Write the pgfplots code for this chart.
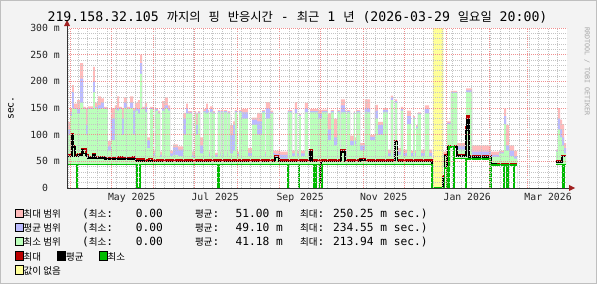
\documentclass[border=0pt]{standalone}
\usepackage{fontspec}
\setmainfont{DejaVu Sans Mono}
\newfontfamily\kr{Noto Sans CJK KR}[Scale=0.85]
\newfontfamily\krt{Noto Sans CJK KR}[Scale=0.93]
\usepackage{pgfplots}
\usepackage{pgfplotstable}
\pgfplotsset{compat=1.18}
\usetikzlibrary{arrows.meta}

\definecolor{bg}{HTML}{F3F3F3}
\definecolor{pinkA}{HTML}{FFBBBB}
\definecolor{blueA}{HTML}{BBBBFF}
\definecolor{greenA}{HTML}{BBFFBB}
\definecolor{redL}{HTML}{BB0000}
\definecolor{greenL}{HTML}{00BB00}
\definecolor{yel}{HTML}{FFFF99}
\definecolor{gridc}{HTML}{C4C4C4}
\definecolor{mgridc}{HTML}{F09090}
\definecolor{arrowc}{HTML}{A02020}

\newcommand\tf{\fontsize{13.2bp}{15bp}\selectfont}
\newcommand\lf{\fontsize{11.2bp}{13bp}\selectfont}
\newcommand\af{\fontsize{9.8bp}{11bp}\selectfont}

% area bands: day, base, green top, blue top, pink top
\pgfplotstableread{
d lo g b p
0 43 100 110 124
2.2 43 135 142 150
3.65 43 150 180 193
5.1 43 148 150 158
7.3 43 140 148 165
9.5 43 160 205 234
11.7 43 148 150 152
13.9 43 100 118 150
15.3 43 148 150 153
19 43 180 200 227
20.4 43 150 152 160
22.6 43 148 155 172
24.8 43 150 160 168
27 43 148 150 152
29.9 43 70 78 88
32.1 43 90 130 150
35 43 148 150 155
36.5 43 145 150 172
38 43 148 150 152
40.2 43 99 130 150
41.6 43 150 160 170
43.8 43 148 150 152
46 43 150 160 172
48.2 43 100 145 150
49.6 43 145 150 160
51.8 43 140 148 165
53.3 43 214 234 250
54.8 43 148 150 152
56.9 43 142 152 160
58.4 43 75 90 95
60.6 43 148 150 152
62.8 43 60 65 70
64.2 43 145 148 150
66.4 43 140 142 145
67.9 43 58 62 68
69.4 43 145 150 163
71.5 43 150 155 170
73.7 43 145 150 155
75.2 43 60 65 70
77.4 43 62 76 82
81 43 60 72 78
84.7 43 100 130 141
86.9 43 140 150 158
88.3 43 140 142 144
91.3 43 58 62 68
93.4 43 140 142 144
94.2 43 100 118 140
95.6 43 140 142 144
97.1 43 65 80 95
99.3 43 142 144 148
101.5 43 140 148 158
102.9 43 142 144 146
103.7 43 60 64 68
104.4 43 142 148 153
106.6 43 140 142 144
108 43 58 62 66
110.2 43 142 144 146
111.7 43 60 64 68
112.4 43 142 144 146
113.9 43 60 64 68
114.6 43 142 144 146
116.8 43 60 64 68
117.5 43 140 142 144
119 43 65 100 118
121.2 43 70 118 125
122.6 43 142 144 146
124.1 43 60 64 68
125.6 43 142 144 146
127.8 43 130 142 148
132.1 43 60 66 75
135.1 43 118 128 132
138.7 43 100 125 141
142.4 43 142 144 146
144.5 43 60 64 68
145.2 43 130 150 161
148.2 43 140 142 145
150.4 43 62 66 70
151.8 43 56 64 70
155.5 43 55 62 68
161.3 43 142 144 146
164.3 43 60 65 70
166.4 43 140 148 161
167.9 43 60 65 70
169.4 43 135 137 139
170.8 43 60 65 70
173.7 43 142 150 160
175.9 43 60 65 70
177.4 43 142 144 148
183.2 43 130 140 146
186.2 43 142 144 147
190.5 43 90 110 140
192.7 43 142 144 146
194.9 43 80 95 130
197.1 43 142 144 146
199.3 43 60 64 68
200 43 142 155 166
202.9 43 142 144 146
203.7 43 60 64 68
204.4 43 142 144 146
206.6 43 80 88 98
209.5 43 140 142 144
210.2 43 82 90 95
211 43 142 144 146
213.9 43 70 80 84
217.5 43 142 150 166
221.2 43 90 96 99
224.8 43 130 145 156
227 43 100 118 124
230.7 43 142 146 150
234.3 43 60 65 72
236.5 43 165 170 173
238 43 60 65 70
239.4 43 160 163 166
240.9 43 62 68 75
243.8 43 145 148 152
245.3 43 60 66 72
248.2 43 120 135 145
251.1 43 60 66 70
252.6 43 130 132 135
254 43 60 66 70
254.8 43 112 115 118
256.2 43 138 140 142
258.4 43 60 66 72
261.3 43 140 148 155
264.3 43 60 66 72
266.5 0 0 0 0
274.5 40 58 63 68
277.4 40 120 122 125
280.3 77 178 180 182
284.7 55 72 78 84
291.3 55 180 183 187
295.7 54 62 68 80
309.5 44 58 62 68
315.4 43 65 67 70
319 43 120 135 149
320.5 43 70 80 118
322.7 43 60 70 80
326.3 43 55 60 70
328.5 0 0 0 0
357 43 68 70 72
358.4 43 110 130 150
359.9 43 95 110 128
361.4 43 80 95 120
362.8 43 65 75 84
364.3 0 0 0 0
365 0 0 0 0
}\areas

\pgfplotstableread{
d v
0 44
7.0 0
7.8 44
51.1 0
53.3 44
109.8 0
110.8 44
161.0 0
161.6 44
169.2 0
169.8 44
180.3 0
181.8 44
184.2 0
186.2 44
266.5 0
274.5 0
275.5 38
277.4 0
278.9 77
282.5 0
283.0 55
291.0 0
291.5 54
308.8 0
309.4 43
318.6 0
319.2 43
321.3 0
321.8 43
326.0 0
326.6 43
328.5 43
328.6 nan
357 44
361.6 0
362.8 44
364.3 44
}\minl

\pgfplotstableread{
d v
0 59
3.65 99
4.7 77
5.8 59
8.0 62
11 71
12 65
14 59
15.3 56
19 62
20.4 56
27.7 54
50 51
56 50
60 51
62 49.5
151.8 57
154.7 49.5
177.4 68
178.8 49.5
185.2 9
185.8 49.5
200 68
202.9 49.5
214 53
218 49.5
239.4 87
241.3 50
266.5 0
274.5 20
275.5 60
277.4 20
278.3 77
284.7 60
291.3 109
292.0 127
293.3 58
309.5 45
313 44
328.5 44
328.6 nan
357 49
361.4 59
364.3 59
}\avgl

\pgfplotstableread{
d v
0 62
3.65 102
4.7 80
5.8 62
8.0 65
11 74
12 73
14 62
15.3 59
19 65
20.4 59
27.7 57
38 58
40 56
48 58
50 54
56 53
60 55
62 52
151.8 61
154.7 52
177.4 71
178.8 52
200 71
202.9 52
214 55
218 52
239.4 89
241.3 53
266.5 0
274.5 22
275.5 62
277.4 22
278.3 79
284.7 62
291.3 115
292.0 135
293.3 61
309.5 46
328.5 46
328.6 nan
357 51
361.4 61
364.3 61
}\maxl

\begin{document}
\begin{tikzpicture}[x=1bp,y=1bp]
\fill[bg] (0,0) rectangle (597,284);
\draw[black!25, line width=1bp] (0.5,0.5) rectangle (596.5,283.5);
\path[use as bounding box] (0,0) rectangle (597,284);

\begin{axis}[
  at={(67bp,96bp)}, anchor=south west,
  width=500bp, height=160bp, scale only axis,
  xmin=0, xmax=365, ymin=0, ymax=300,
  axis on top,
  axis background/.style={fill=white},
  axis line style={draw=none},
  tick style={draw=none},
  unbounded coords=jump,
  xtick={2.1667,32.1667,63.1667,93.1667,124.1667,155.1667,185.1667,216.1667,246.1667,277.1667,308.1667,336.1667},
  xticklabels={},
  minor xtick={1.1667,8.1667,...,365},
  extra x ticks={47.17,108.17,170.17,231.17,292.17,351.17},
  extra x tick labels={May 2025,Jul 2025,Sep 2025,Nov 2025,Jan 2026,Mar 2026},
  extra x tick style={grid=none},
  ytick={0,50,...,300},
  minor ytick={10,20,...,290},
  yticklabels={0\phantom{mm},50 m,100 m,150 m,200 m,250 m,300 m},
  grid=both,
  major grid style={mgridc, dash pattern=on 1bp off 1bp, line width=0.7bp},
  minor grid style={gridc, dash pattern=on 1bp off 1bp, line width=0.7bp},
  tick label style={font=\af, text=black!85},
  xticklabel style={yshift=-1.4bp},
  yticklabel style={inner sep=0pt, xshift=-7bp},
]
\addplot[const plot, fill=pinkA, draw=none] table[x=d, y=p]{\areas} \closedcycle;
\addplot[const plot, fill=blueA, draw=none] table[x=d, y=b]{\areas} \closedcycle;
\addplot[const plot, fill=greenA, draw=none] table[x=d, y=g]{\areas} \closedcycle;
\addplot[const plot, fill=white, draw=none] table[x=d, y=lo]{\areas} \closedcycle;
\addplot[const plot, fill=yel, draw=none] coordinates {(267,300) (274.8,300)} \closedcycle;
\addplot[const plot, redL, line width=1.6bp] table[x=d, y=v]{\maxl};
\addplot[const plot, black, line width=1.6bp] table[x=d, y=v]{\avgl};
\addplot[const plot, greenL, line width=1.6bp] table[x=d, y=v]{\minl};
\end{axis}

% axes with arrows
\draw[black!80, line width=0.8bp] (67,96) -- (571,96);
\draw[black!80, line width=0.8bp] (67,96) -- (67,260);
\fill[arrowc] (575,96) -- (569,99) -- (569,93) -- cycle;
\fill[arrowc] (67,264) -- (64,258) -- (70,258) -- cycle;

% title
\node[anchor=base, inner sep=0] at (297.5,262.2) {\tf 219.158.32.105 {\krt 까지의} {\krt 핑} {\krt 반응시간} - {\krt 최근} 1 {\krt 년} (2026-03-29 {\krt 일요일} 20:00)};

% y label
\node[rotate=90, inner sep=0] at (11,176) {\af sec.};

% watermark
\node[rotate=-90, anchor=west, inner sep=0, text=black!35] at (587,257) {\fontsize{6.7bp}{8bp}\selectfont RRDTOOL / TOBI OETIKER};

% legend
\foreach \yc/\col in {70.5/pinkA,56.5/blueA,42.5/greenA}{
  \filldraw[fill=\col, draw=black, line width=0.8bp] (15,\yc-4.25) rectangle ++(8.5,8.5);
}
\node[anchor=base west, inner sep=0] at (23.5,66.5) {\lf{\kr 최대 범위}};
\node[anchor=base west, inner sep=0] at (23.5,52.5) {\lf{\kr 평균 범위}};
\node[anchor=base west, inner sep=0] at (23.5,38.5) {\lf{\kr 최소 범위}};
\foreach \yb in {66.5,52.5,38.5}{
  \node[anchor=base west, inner sep=0] at (82,\yb) {\lf({\kr 최소}:};
  \node[anchor=base east, inner sep=0] at (163,\yb) {\lf 0.00};
  \node[anchor=base west, inner sep=0] at (195,\yb) {\lf{\kr 평균}:};
  \node[anchor=base west, inner sep=0] at (300,\yb) {\lf{\kr 최대}:};
}
\node[anchor=base east, inner sep=0] at (283,66.5) {\lf 51.00 m};
\node[anchor=base east, inner sep=0] at (283,52.5) {\lf 49.10 m};
\node[anchor=base east, inner sep=0] at (283,38.5) {\lf 41.18 m};
\node[anchor=base west, inner sep=0] at (333,66.5) {\lf 250.25 m sec.)};
\node[anchor=base west, inner sep=0] at (333,52.5) {\lf 234.55 m sec.)};
\node[anchor=base west, inner sep=0] at (333,38.5) {\lf 213.94 m sec.)};

\filldraw[fill=redL, draw=black, line width=0.8bp] (15,28-4.25) rectangle ++(8.5,8.5);
\node[anchor=base west, inner sep=0] at (23.5,24) {\lf{\kr 최대}};
\filldraw[fill=black, draw=black, line width=0.8bp] (57,28-4.25) rectangle ++(8.5,8.5);
\node[anchor=base west, inner sep=0] at (66,24) {\lf{\kr 평균}};
\filldraw[fill=greenL, draw=black, line width=0.8bp] (99,28-4.25) rectangle ++(8.5,8.5);
\node[anchor=base west, inner sep=0] at (107.5,24) {\lf{\kr 최소}};

\filldraw[fill=yel, draw=black, line width=0.8bp] (15,14-4.25) rectangle ++(8.5,8.5);
\node[anchor=base west, inner sep=0] at (23.5,10) {\lf{\kr 값이 없음}};
\end{tikzpicture}
\end{document}
